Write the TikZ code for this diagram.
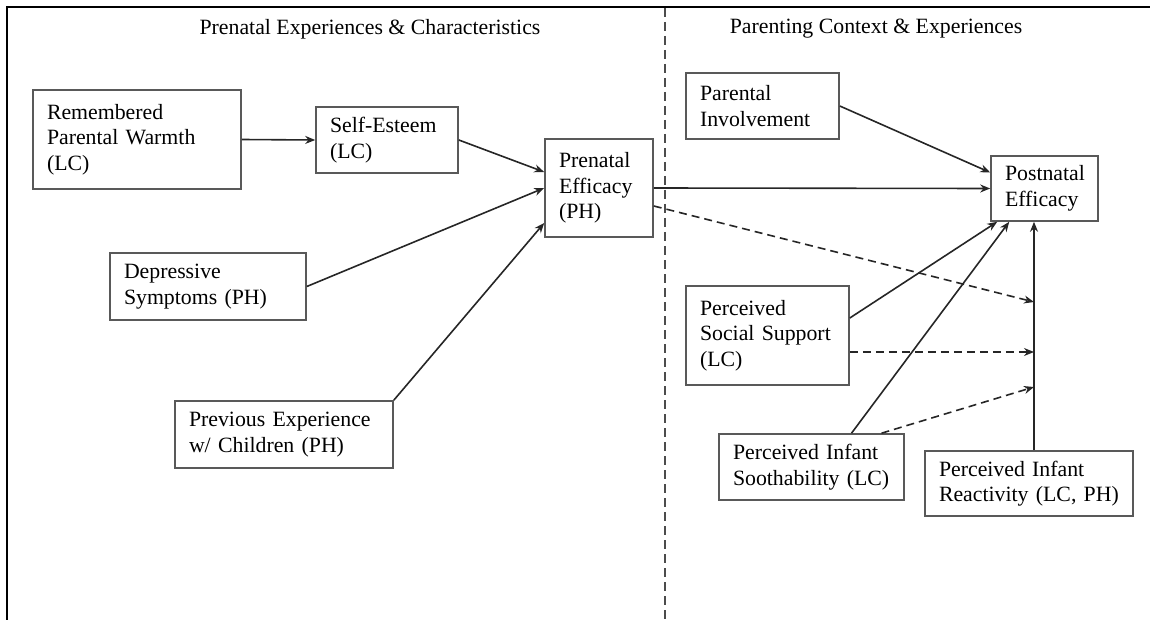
\documentclass[tikz,border=0pt]{standalone}
\usepackage{fontspec}
\setmainfont{Liberation Serif}
\usetikzlibrary{arrows.meta}
\tikzset{
  box/.style={draw=black!65, line width=1.6pt, inner xsep=14pt, inner ysep=4pt,
    align=left, font=\fontsize{21.8}{25.5}\selectfont},
  link/.style={draw=black!85, line width=1.6pt},
  mod/.style={link, dash pattern=on 8pt off 5pt},
}
\begin{document}
\begin{tikzpicture}[x=1pt,y=-1pt,>={Stealth[length=10pt,width=8pt]}]
      \useasboundingbox (0,0) rectangle (1150,620);
      % frame and divider
      \draw[line width=2.2pt] (1150,7) -- (7,7) -- (7,620);
      \draw[black!70, line width=1.4pt, dash pattern=on 9pt off 5pt] (665,8) -- (665,620);
      \node[font=\fontsize{21.8}{25.5}\selectfont] (t1) at (370,29) {Prenatal Experiences \& Characteristics};
      \node[font=\fontsize{21.8}{25.5}\selectfont] (t2) at (876,29) {Parenting Context \& Experiences};
      % prenatal side
      \node[box, text width=180pt, minimum height=99pt] (rpw) at (137,139.5) {Remembered\\Parental Warmth\\(LC)};
      \node[box, text width=114pt, minimum height=66pt] (se) at (387,140) {Self-Esteem\\(LC)};
      \node[box, text width=80pt, minimum height=98pt] (pe) at (599,188) {Prenatal\\Efficacy\\(PH)};
      \node[box, text width=168pt, minimum height=67pt] (dep) at (208,286.5) {Depressive\\Symptoms (PH)};
      \node[box, text width=190pt, minimum height=67pt] (prev) at (284,434.5) {Previous Experience\\w/ Children (PH)};
      % parenting side
      \node[box, text width=125pt, minimum height=66pt] (pi) at (762.5,106) {Parental\\Involvement};
      \node[box, text width=79pt, minimum height=65pt] (post) at (1044.5,188.5) {Postnatal\\Efficacy};
      \node[box, text width=135pt, minimum height=99pt] (pss) at (767.5,335.5) {Perceived\\Social Support\\(LC)};
      \node[box, text width=157pt, minimum height=66pt] (pis) at (811.5,467) {Perceived Infant\\Soothability (LC)};
      \node[box, text width=180pt, minimum height=65pt] (pir) at (1029,483.5) {Perceived Infant\\Reactivity (LC, PH)};
      \coordinate (m1) at (1034,302);
      \coordinate (m2) at (1034,352);
      \coordinate (m3) at (1034,387);
      \draw [link,->] (rpw.east) -- (se.west);
      \draw [link,->] (se.east) -- ([yshift=16pt]pe.west);
      \draw [link,->] (dep.east) -- (pe.west);
      \draw [link,->] (prev.north east) -- ([yshift=-35pt]pe.west);
      \draw [link,->] (pe.east) -- (post.west);
      \draw [link,->] (pi.east) -- ([yshift=16pt]post.west);
      \draw [link,->] ([yshift=17.5pt]pss.east) -- ([xshift=7pt]post.south west);
      \draw [link,->] ([xshift=40pt]pis.north) -- ([xshift=19pt]post.south west);
      \draw [link,->] (pir.north -| m1) -- (post.south -| m1);
      \draw [mod,->] ([yshift=-18pt]pe.east) -- (m1);
      \draw [mod,->] ([yshift=-16.5pt]pss.east) -- (m2);
      \draw [mod,->] ([xshift=70pt]pis.north) -- (m3);
    \end{tikzpicture}
\end{document}
